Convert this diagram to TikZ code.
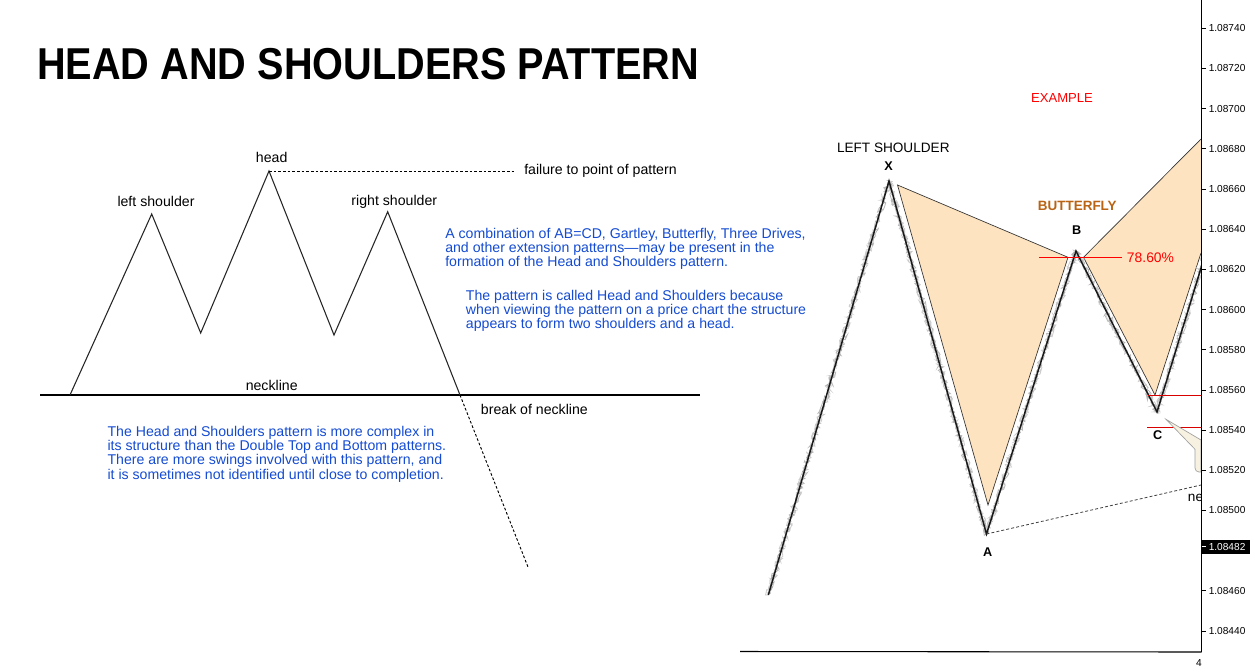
\documentclass[tikz,border=0pt]{standalone}
\usepackage{fontspec}
\setmainfont{Liberation Sans}
\usetikzlibrary{decorations.pathmorphing}
\definecolor{txtblue}{RGB}{20,75,210}
\definecolor{peach}{RGB}{253,227,192}
\definecolor{bfly}{RGB}{185,100,20}
\definecolor{callout}{RGB}{247,241,225}
\tikzset{
  lbl/.style={font=\fontsize{10.6}{13}\selectfont, anchor=base, inner sep=0pt},
  blue/.style={font=\fontsize{10.6}{10.65}\selectfont, text=txtblue, align=left, anchor=north west, inner sep=0pt},
  pat/.style={line width=0.8pt, black!85},
  ptlbl/.style={font=\fontsize{9.5}{11}\bfseries\selectfont, anchor=base, inner sep=0pt},
  axlbl/.style={font=\fontsize{7.6}{9}\selectfont, anchor=west, inner sep=0pt},
  fuzz/.style={gray!55, line width=0.6pt, decorate, decoration={random steps, segment length=1.4pt, amplitude=2.4pt}},
  tri/.style={fill=peach, draw=black!80, line width=0.5pt},
}
\begin{document}
\begin{tikzpicture}[x=0.75pt, y=-0.75pt]
\useasboundingbox (0,0) rectangle (1250,669);
\fill[white] (0,0) rectangle (1250,669);

% ---------- title ----------
\node[anchor=base west, inner sep=0pt] (title) at (37,79)
  {\scalebox{0.888}[1]{\fontsize{33.5}{36}\bfseries\selectfont HEAD AND SHOULDERS PATTERN}};

% ---------- left schematic ----------
\coordinate (nl0) at (40,395);
\coordinate (nl1) at (700,395);
\coordinate (s0) at (70,395);
\coordinate (ls) at (151.7,214);
\coordinate (t1) at (200.7,333);
\coordinate (hd) at (269,171);
\coordinate (t2) at (334,335);
\coordinate (rs) at (387.7,211.7);
\coordinate (brk) at (460,395);
\coordinate (end) at (528,567);
\coordinate (fl) at (515,171);

\draw[line width=0.9pt] (nl0) -- (nl1);
\draw[pat] (s0) -- (ls) -- (t1) -- (hd) -- (t2) -- (rs) -- (brk);
\draw[line width=0.7pt, dash pattern=on 2pt off 1.5pt] (hd) -- (fl);
\draw[line width=0.7pt, dash pattern=on 2pt off 1.5pt] (brk) -- (end);

\node[lbl] (lhead) at (271.7,162.7) {head};
\node[lbl] (lls) at (156,206.7) {left shoulder};
\node[lbl] (lrs) at (394.3,205.7) {right shoulder};
\node[lbl] (lnl) at (271.7,390.7) {neckline};
\node[lbl, anchor=base west] (lbrk) at (480.7,414.3) {break of neckline};
\node[lbl, anchor=base west] (lfail) at (524,174.3) {failure to point of pattern};

\node[blue] (b1) at (445,228) {A combination of AB=CD, Gartley, Butterfly, Three Drives,\\and other extension patterns---may be present in the\\formation of the Head and Shoulders pattern.};
\node[blue] (b2) at (465.7,289.5) {The pattern is called Head and Shoulders because\\when viewing the pattern on a price chart the structure\\appears to form two shoulders and a head.};
\node[blue] (b3) at (107.3,426) {The Head and Shoulders pattern is more complex in\\its structure than the Double Top and Bottom patterns.\\There are more swings involved with this pattern, and\\it is sometimes not identified until close to completion.};

% ---------- right chart ----------
\coordinate (P0) at (768.3,595);
\coordinate (PX) at (889,181);
\coordinate (PA) at (986.5,534);
\coordinate (PB) at (1076,251);
\coordinate (PC) at (1157,412);
\coordinate (PE) at (1205,255);

\coordinate (T1x) at (897.5,185);
\coordinate (T1a) at (988,505);
\coordinate (T1b) at (1068,257.3);
\coordinate (T2b) at (1083.5,257.3);
\coordinate (T2c) at (1155,395);
\coordinate (T2r) at (1201,253);
\coordinate (T2t) at (1201,139);

\begin{scope}
\clip (700,0) rectangle (1201,652);
\fill[peach] (T2b) -- (T2c) -- (T2r) -- (T2t) -- cycle;
\draw[black!80, line width=0.5pt] (T2r) -- (T2c) -- (T2b) -- (T2t);
\draw[tri] (T1x) -- (T1a) -- (T1b) -- cycle;
% price
\pgfmathsetseed{11}
\draw[fuzz, xshift=-1.2pt] (P0) -- (PX) -- (PA) -- (PB) -- (PC) -- (PE);
\pgfmathsetseed{29}
\draw[fuzz, gray!40, xshift=-0.4pt] (P0) -- (PX) -- (PA) -- (PB) -- (PC) -- (PE);
\pgfmathsetseed{53}
\draw[fuzz, gray!70, line width=0.4pt, decoration={random steps, segment length=1pt, amplitude=1.4pt}] (P0) -- (PX) -- (PA) -- (PB) -- (PC) -- (PE);
\draw[black!90, line width=1.1pt, line join=miter] (P0) -- (PX) -- (PA) -- (PB) -- (PC) -- (PE);
% neckline
\coordinate (nk1) at (1201,485);
\draw[black!75, line width=0.6pt, dash pattern=on 2.2pt off 1.6pt] (PA) -- (nk1);
\node[lbl, anchor=base west, font=\fontsize{10.2}{12}\selectfont] (nkl) at (1187.7,501.7) {neckline};
% red levels
\coordinate (r1a) at (1039,257.3); \coordinate (r1b) at (1122,257.3);
\coordinate (r2a) at (1148,395.3); \coordinate (r2b) at (1201,395.3);
\coordinate (r3a) at (1147,427.3); \coordinate (r3b) at (1201,427.3);
\draw[red, line width=0.7pt] (r1a) -- (r1b);
\draw[red!85!black, line width=0.7pt] (r2a) -- (r2b);
\draw[red!85!black, line width=0.7pt] (r3a) -- (r3b);
% callout
\coordinate (ct) at (1166,419.3);
\draw[fill=callout, draw=gray!75, line width=0.5pt] (ct) -- (1201,440) -- (1201,472) -- (1199,472)
   to[out=180,in=-90] (1195,468) -- (1195,449.3) -- cycle;
\end{scope}

\node[lbl, font=\fontsize{10.2}{12}\selectfont] (lsh) at (893.3,152.7) {LEFT SHOULDER};
\node[ptlbl] (lx) at (888.7,170) {X};
\node[ptlbl] (lb) at (1076.7,234.3) {B};
\node[ptlbl] (la) at (987.7,556) {A};
\node[ptlbl] (lc) at (1157.7,439) {C};
\node[lbl, font=\fontsize{10.1}{12}\bfseries\selectfont, text=bfly] (bf) at (1077.3,210.7) {BUTTERFLY};
\node[lbl, anchor=base west, font=\fontsize{10.4}{12}\selectfont, text=red] (pct) at (1126.7,262.7) {78.60\%};
\node[lbl, font=\fontsize{9.8}{12}\selectfont, text=red] (ex) at (1062,102.7) {EXAMPLE};

% ---------- price axis ----------
\coordinate (ax0) at (1201.5,0);
\coordinate (ax1) at (1201.5,652);
\coordinate (bt0) at (740,651.5);
\draw[line width=0.8pt] (ax0) -- (ax1);
\draw[line width=0.8pt] (bt0) -- (ax1);
\foreach \k/\v in {0/1.08740,1/1.08720,2/1.08700,3/1.08680,4/1.08660,5/1.08640,6/1.08620,7/1.08600,8/1.08580,9/1.08560,10/1.08540,11/1.08520,12/1.08500,14/1.08460,15/1.08440}{
  \pgfmathsetmacro{\yy}{28.3+\k*40.18}
  \draw[line width=0.6pt] (1201.5,\yy) -- (1206,\yy);
  \node[axlbl] at (1208.5,\yy) {\v};
}
\fill[black] (1201.5,540) rectangle (1250,554);
\draw[white, line width=0.6pt] (1201.5,546.6) -- (1206,546.6);
\node[axlbl, text=white] (cur) at (1208.5,547) {1.08482};
\node[axlbl, anchor=north] (dt) at (1199,659) {4};
\end{tikzpicture}
\end{document}
